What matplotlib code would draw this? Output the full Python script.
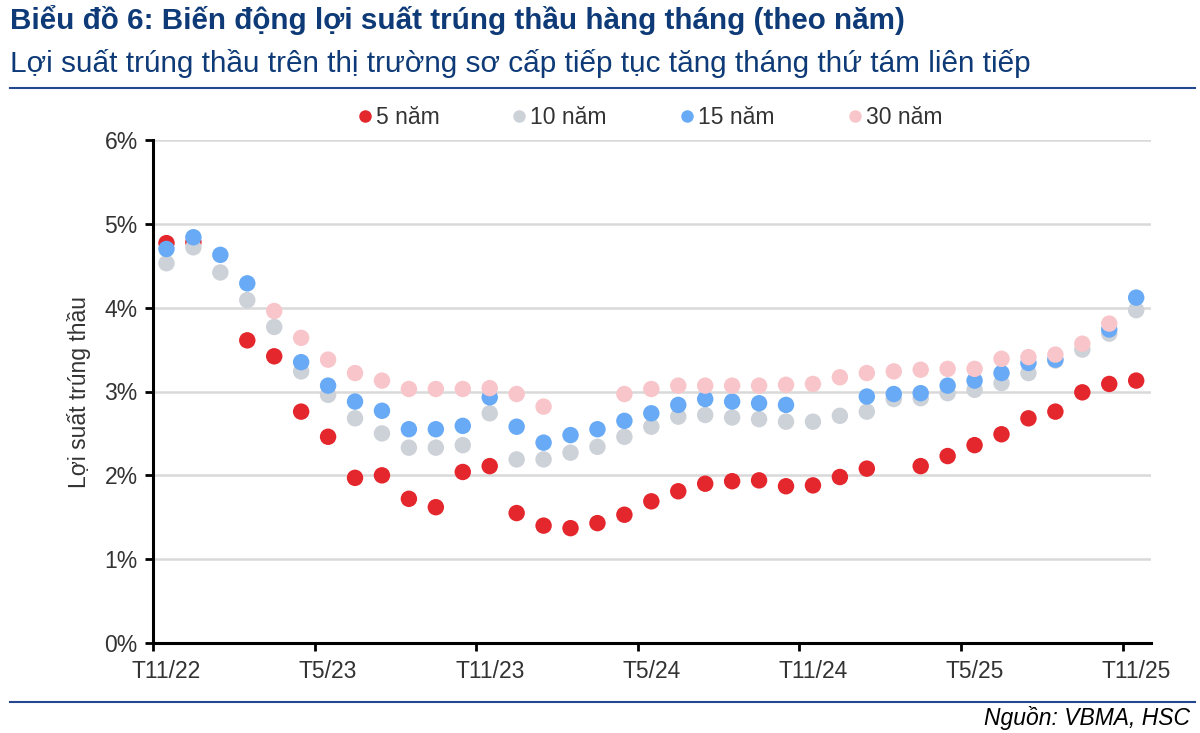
import numpy as np
import matplotlib
matplotlib.use("Agg")
import matplotlib.pyplot as plt
from matplotlib.lines import Line2D

nan = np.nan
tick_labels = ['T11/22', 'T5/23', 'T11/23', 'T5/24', 'T11/24', 'T5/25', 'T11/25']
n_months = 37

y5 = [4.77, 4.78, nan, 3.61, 3.42, 2.76, 2.46, 1.97, 2.00, 1.72, 1.62, 2.04, 2.11,
      1.55, 1.40, 1.37, 1.43, 1.53, 1.69, 1.81, 1.90, 1.93, 1.94, 1.87, 1.88, 1.98,
      2.08, nan, 2.11, 2.23, 2.36, 2.49, 2.68, 2.76, 2.99, 3.09, 3.13]
y10 = [4.53, 4.72, 4.42, 4.09, 3.77, 3.24, 2.96, 2.68, 2.50, 2.33, 2.33, 2.36, 2.74,
       2.19, 2.19, 2.27, 2.34, 2.46, 2.58, 2.70, 2.72, 2.69, 2.67, 2.64, 2.64, 2.71,
       2.76, 2.91, 2.92, 2.98, 3.02, 3.10, 3.22, 3.37, 3.50, 3.69, 3.97]
y15 = [4.70, 4.84, 4.63, 4.29, nan, 3.35, 3.07, 2.88, 2.77, 2.55, 2.55, 2.59, 2.93,
       2.58, 2.39, 2.48, 2.55, 2.65, 2.74, 2.84, 2.91, 2.88, 2.86, 2.84, nan, nan,
       2.94, 2.97, 2.98, 3.07, 3.13, 3.22, 3.34, 3.38, nan, 3.74, 4.12]
y30 = [nan, nan, nan, nan, 3.96, 3.64, 3.38, 3.22, 3.13, 3.03, 3.03, 3.03, 3.04,
       2.97, 2.82, nan, nan, 2.97, 3.03, 3.07, 3.07, 3.07, 3.07, 3.08, 3.09, 3.17,
       3.22, 3.24, 3.26, 3.27, 3.27, 3.39, 3.41, 3.44, 3.57, 3.81, nan]

series_names = ['5 năm', '10 năm', '15 năm', '30 năm']
colors = ['#E4262D', '#CDD1D8', '#68AAF5', '#F8C6CA']

plt.rcParams['font.family'] = ['Liberation Sans', 'DejaVu Sans']

fig = plt.figure(figsize=(12, 7.33), dpi=100)
ax = fig.add_axes([153/1200, 1-643/733, (1151-153)/1200, (643-140)/733])

x = np.arange(n_months)
for ys, c, name in zip([y5, y10, y15, y30], colors, series_names):
    ax.scatter(x, ys, s=140, color=c, edgecolors='none', label=name, zorder=3)

ax.set_xlim(-0.5, n_months - 0.5 + 0.05)
ax.set_ylim(0, 6)
ax.set_yticks(np.arange(0, 7, 1))
ax.set_yticklabels([f'{v}%' for v in range(7)])
ax.yaxis.grid(True, color='#D9D9D9', linewidth=1.8, zorder=0)
ax.set_axisbelow(True)

ax.set_xticks(np.arange(0, n_months, 6))
ax.set_xticklabels(tick_labels)
ax.set_xticks(np.arange(-0.5, n_months - 1, 6), minor=True)
ax.tick_params(axis='x', which='major', length=0, pad=12, labelsize=16.5, labelcolor='#333333')
ax.tick_params(axis='x', which='minor', length=6, width=2, direction='out', color='black')
ax.tick_params(axis='y', which='major', length=6, width=2, direction='out', pad=5,
               labelsize=16.5, labelcolor='#333333')

for s in ['top', 'right']:
    ax.spines[s].set_visible(False)
for s in ['left', 'bottom']:
    ax.spines[s].set_linewidth(2.2)
    ax.spines[s].set_color('black')

ax.set_ylabel('Lợi suất trúng thầu', fontsize=16.5, color='#333333', labelpad=10)

handles = [Line2D([0], [0], marker='o', linestyle='none', markersize=9,
                  markerfacecolor=c, markeredgecolor='none') for c in colors]
fig.legend(handles, series_names, loc='center', bbox_to_anchor=(650/1200, 1-118/733),
           ncol=4, frameon=False, fontsize=16.5, handletextpad=0.18, columnspacing=3.2,
           handlelength=0.6, labelcolor='#333333')

title_color = '#0E3B77'
fig.text(10/1200, 1-20/733, 'Biểu đồ 6: Biến động lợi suất trúng thầu hàng tháng (theo năm)',
         fontsize=21.3, fontweight='bold', color=title_color, ha='left', va='center')
fig.text(10/1200, 1-64/733, 'Lợi suất trúng thầu trên thị trường sơ cấp tiếp tục tăng tháng thứ tám liên tiếp',
         fontsize=21.4, color=title_color, ha='left', va='center')

line_color = '#24478F'
fig.add_artist(Line2D([10/1200, 1195/1200], [1-88/733, 1-88/733], color=line_color, linewidth=1.5))
fig.add_artist(Line2D([10/1200, 1195/1200], [1-702/733, 1-702/733], color=line_color, linewidth=1.5))

fig.text(1190/1200, 1-718/733, 'Nguồn: VBMA, HSC', fontsize=16.5, style='italic',
         color='black', ha='right', va='center')

fig.savefig('out.png', dpi=100)
